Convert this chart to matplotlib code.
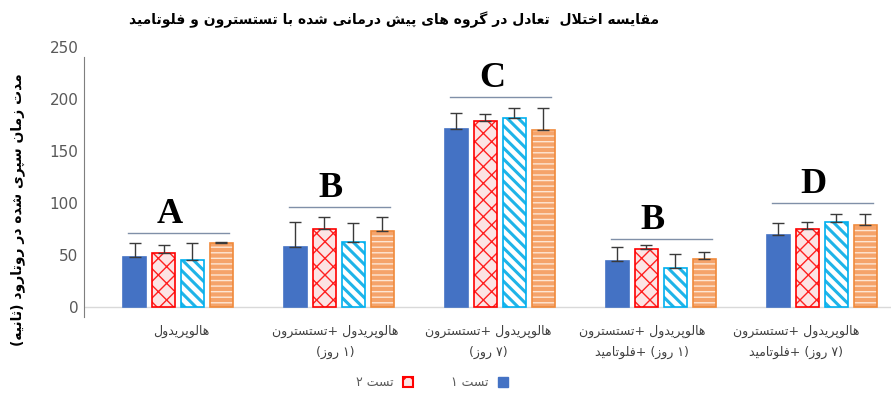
import re
import numpy as np
import matplotlib
matplotlib.use("Agg")
import matplotlib.pyplot as plt
from matplotlib.patches import Patch

# ---- data ----
groups = ["هالوپریدول",
          "هالوپریدول +تستسترون\n(۱ روز)",
          "هالوپریدول +تستسترون\n(۷ روز)",
          "هالوپریدول +تستسترون\n(۱ روز) +فلوتامید",
          "هالوپریدول +تستسترون\n(۷ روز) +فلوتامید"]
test1 = [48, 58, 171, 44, 69]
test2 = [52, 75, 179, 56, 75]
test3 = [45, 63, 182, 38, 82]
test4 = [62, 73, 170, 46, 79]
err1 = [14, 24, 16, 14, 12]
err2 = [8, 12, 7, 4, 7]
err3 = [17, 18, 9, 13, 7]
err4 = [1, 14, 21, 7, 10]
sig_letters = ["A", "B", "C", "B", "D"]
sig_levels = [71, 96, 202, 65, 100]
legend_labels = ["تست ۱", "تست ۲"]
title = "مقایسه اختلال  تعادل در گروه های پیش درمانی شده با تستسترون و فلوتامید"
ylabel = "مدت زمان سپری شده در روتارود (ثانیه)"

# ---- tiny arabic/persian shaper (matplotlib has no text shaping) ----
F = {
    'ا': 'FE8D FE8E', 'آ': 'FE81 FE82', 'د': 'FEA9 FEAA', 'ذ': 'FEAB FEAC',
    'ر': 'FEAD FEAE', 'ز': 'FEAF FEB0', 'ژ': 'FB8A FB8B', 'و': 'FEED FEEE',
    'ب': 'FE8F FE90 FE91 FE92', 'پ': 'FB56 FB57 FB58 FB59', 'ت': 'FE95 FE96 FE97 FE98',
    'ث': 'FE99 FE9A FE9B FE9C', 'ج': 'FE9D FE9E FE9F FEA0', 'چ': 'FB7A FB7B FB7C FB7D',
    'ح': 'FEA1 FEA2 FEA3 FEA4', 'خ': 'FEA5 FEA6 FEA7 FEA8', 'س': 'FEB1 FEB2 FEB3 FEB4',
    'ش': 'FEB5 FEB6 FEB7 FEB8', 'ص': 'FEB9 FEBA FEBB FEBC', 'ض': 'FEBD FEBE FEBF FEC0',
    'ط': 'FEC1 FEC2 FEC3 FEC4', 'ظ': 'FEC5 FEC6 FEC7 FEC8', 'ع': 'FEC9 FECA FECB FECC',
    'غ': 'FECD FECE FECF FED0', 'ف': 'FED1 FED2 FED3 FED4', 'ق': 'FED5 FED6 FED7 FED8',
    'ک': 'FB8E FB8F FB90 FB91', 'گ': 'FB92 FB93 FB94 FB95', 'ل': 'FEDD FEDE FEDF FEE0',
    'م': 'FEE1 FEE2 FEE3 FEE4', 'ن': 'FEE5 FEE6 FEE7 FEE8', 'ه': 'FEE9 FEEA FEEB FEEC',
    'ی': 'FBFC FBFD FBFE FBFF',
}
F = {k: [chr(int(c, 16)) for c in v.split()] for k, v in F.items()}


def dual(c):
    return c in F and len(F[c]) == 4


def shape(word):
    out = []
    i = 0
    while i < len(word):
        c = word[i]
        prev = word[i - 1] if i > 0 else ''
        nxt = word[i + 1] if i + 1 < len(word) else ''
        jp = dual(prev)
        if c == 'ل' and nxt in ('ا', 'آ'):
            if nxt == 'ا':
                out.append('\uFEFC' if jp else '\uFEFB')
            else:
                out.append('\uFEF6' if jp else '\uFEF5')
            i += 2
            continue
        if c not in F:
            out.append(c)
        else:
            jn = dual(c) and nxt in F
            forms = F[c]
            if jp and jn:
                out.append(forms[3])
            elif jp:
                out.append(forms[1])
            elif jn:
                out.append(forms[2])
            else:
                out.append(forms[0])
        i += 1
    return ''.join(out)


def rtl(s):
    # shape, then lay out right-to-left line by line
    lines = []
    for line in s.split('\n'):
        t = shape(line)[::-1]
        lines.append(t.translate(str.maketrans('()', ')(')))
    return '\n'.join(lines)


# ---- plot ----
plt.rcParams['font.family'] = ['DejaVu Sans']
fig = plt.figure(figsize=(8.91, 4.03), dpi=100)
ax = fig.add_axes([84 / 891, 0.207, 1 - 84 / 891, 0.6816])

x = np.arange(len(groups))
w = 0.143
step = 0.18
series = [
    (test1, err1, dict(face='#4472C4', hatch=None, hcol=None, edge='#4472C4', hlw=1)),
    (test2, err2, dict(face='#FCE4E4', hatch='xx', hcol='#FF2020', edge='#FF0000', hlw=1)),
    (test3, err3, dict(face='#FFFFFF', hatch='\\\\\\', hcol='#1FB4E8', edge='#00B0F0', hlw=2.2)),
    (test4, err4, dict(face='#F5A36A', hatch='---', hcol='#FDE6D4', edge='#F08A3C', hlw=1)),
]
for k, (vals, errs, st) in enumerate(series):
    pos = x + (k - 1.5) * step
    ax.bar(pos, vals, w, color=st['face'], linewidth=0, zorder=2)
    if st['hatch']:
        with plt.rc_context({'hatch.linewidth': st['hlw']}):
            ax.bar(pos, vals, w, color='none', edgecolor=st['hcol'], hatch=st['hatch'],
                   linewidth=0, zorder=3)
    ax.bar(pos, vals, w, color='none', edgecolor=st['edge'], linewidth=1.2, zorder=4)
    ax.errorbar(pos, vals, yerr=[np.zeros(len(errs)), errs], fmt='none',
                ecolor='#3A3A3A', elinewidth=1, capsize=4, capthick=1, zorder=5)

# significance letters and lines
for i, (lt, lv) in enumerate(zip(sig_letters, sig_levels)):
    ax.plot([i - 0.31, i + 0.32], [lv, lv], color='#8090A8', lw=1, zorder=5)
    ax.text(i - 0.05, lv + 10, lt, ha='center', va='baseline', fontsize=26,
            fontweight='bold', family='Liberation Serif', color='black')

ax.axhline(0, color='#D9D9D9', lw=1, zorder=1)
ax.set_xlim(-0.584, 4.43)
ax.set_ylim(-12, 252)
ax.set_yticks(range(0, 251, 50))
ax.tick_params(axis='y', length=0, labelsize=11, labelcolor='#595959', pad=4)
ax.set_xticks(x * 0.955 + 0.02)
ax.set_xticklabels([rtl(g) for g in groups], fontsize=9, color='#404040', linespacing=1.8)
ax.tick_params(axis='x', length=0, pad=4)
for s in ['top', 'right', 'bottom']:
    ax.spines[s].set_visible(False)
ax.spines['left'].set_color('#7F7F7F')
ax.spines['left'].set_bounds(-10, 240)

fig.text(0.442, 0.95, rtl(title), ha='center', va='center', fontsize=10,
         fontweight='bold')
fig.text(0.02, 0.48, rtl(ylabel), rotation=90, ha='center', va='center',
         fontsize=10, fontweight='bold')

handles = [Patch(facecolor='#4472C4', edgecolor='#4472C4'),
           Patch(facecolor='#FCE4E4', edgecolor='#FF0000', hatch='xx', linewidth=1.5)]
fig.legend(handles[::-1], [rtl(l) for l in legend_labels][::-1], loc='center',
           bbox_to_anchor=(0.485, 0.05), ncol=2, frameon=False, markerfirst=False,
           fontsize=9, handlelength=0.8, handleheight=0.8, columnspacing=3,
           labelcolor='#595959')

fig.savefig('out.png', dpi=100)
